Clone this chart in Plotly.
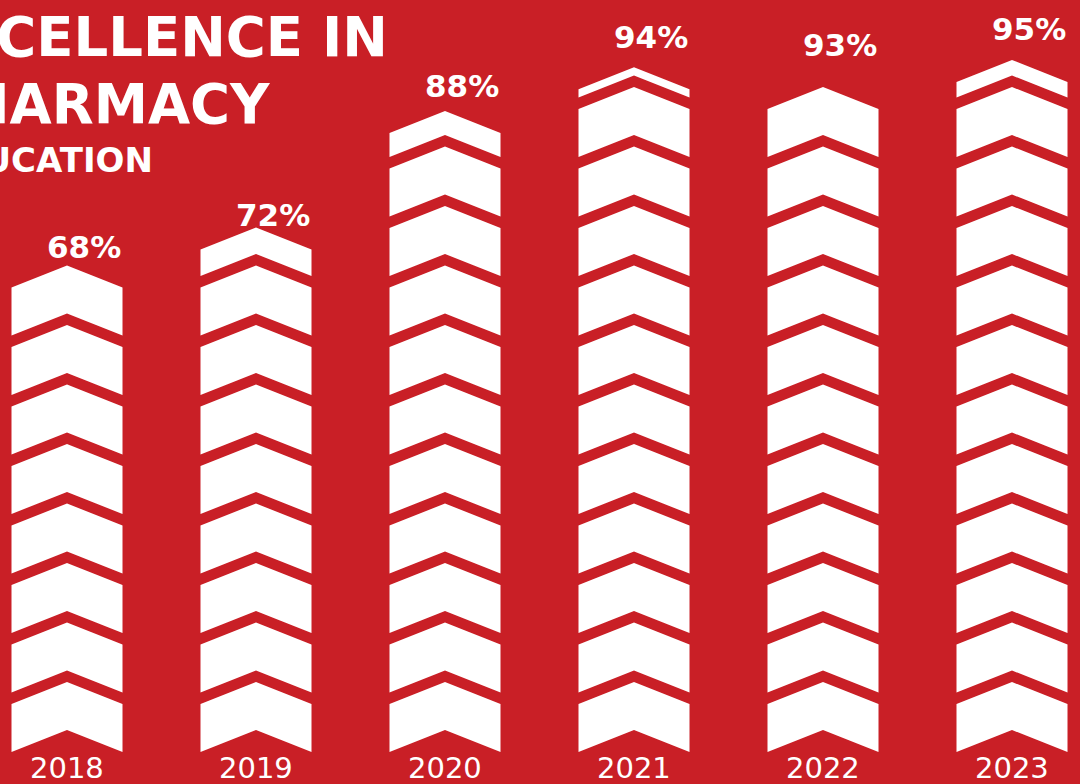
import plotly.graph_objects as go

# ---- data ----
years = ["2018", "2019", "2020", "2021", "2022", "2023"]
values = [68, 72, 88, 94, 93, 95]
title_lines = ["EXCELLENCE IN", "PHARMACY", "EDUCATION"]

# ---- style constants ----
BG = "#C91F26"
W, H = 1080, 784
PX_PER_UNIT = 7.285          # pixels per percentage point (chevron bars)
LABEL_PX_PER_UNIT = 8.073    # pixels per percentage point (value labels)
LABEL_OFFSET_PX = -44.2
BAR_SPACING_PX = 189.0
FIRST_CENTER_PX = 67.0
BASE_PX = 752.0
PITCH = 59.5 / PX_PER_UNIT   # vertical distance between stacked chevrons
NOTCH = 22.0 / PX_PER_UNIT   # depth of the chevron point
SIDE = 48.0 / PX_PER_UNIT    # height of the chevron's vertical side
HALF_W = 55.5 / BAR_SPACING_PX
FONT = "DejaVu Sans"

fig = go.Figure()

for i, v in enumerate(values):
    xs, ys = [], []
    x0, x1 = i - HALF_W, i + HALF_W
    j = 0
    while True:
        base = j * PITCH
        side = min(SIDE, v - base - NOTCH)
        if side < 0.3:
            break
        xs += [x0, x0, i, x1, x1, i, x0, None]
        ys += [base, base + side, base + side + NOTCH, base + side, base,
               base + NOTCH, base, None]
        if side < SIDE:
            break
        j += 1
    fig.add_trace(go.Scatter(
        x=xs, y=ys, fill="toself", fillcolor="white", mode="lines",
        line=dict(width=0, color="white"), hoverinfo="skip", showlegend=False,
    ))

annotations = []
for i, (yr, v) in enumerate(zip(years, values)):
    annotations.append(dict(
        x=i + HALF_W, y=v, xref="x", yref="y2", xanchor="right",
        yanchor="middle", text=f"{v}%", showarrow=False,
        font=dict(family=FONT, size=31, color="white", weight="bold"),
    ))
    annotations.append(dict(
        x=i, y=-(768 - BASE_PX) / PX_PER_UNIT, xref="x", yref="y",
        xanchor="center", yanchor="middle", text=yr, showarrow=False,
        font=dict(family=FONT, size=29, color="white"),
    ))

title_right_px = [390, 272, 155]
title_center_py = [37, 104, 160]
title_sizes = [54.5, 54.5, 34]
for line, rx, cy, sz in zip(title_lines, title_right_px, title_center_py, title_sizes):
    annotations.append(dict(
        x=rx / W, y=1 - cy / H, xref="paper", yref="paper", xanchor="right",
        yanchor="middle", text=line, showarrow=False,
        font=dict(family=FONT, size=sz, color="white", weight="bold"),
    ))

x_lo = -FIRST_CENTER_PX / BAR_SPACING_PX
x_hi = (W - FIRST_CENTER_PX) / BAR_SPACING_PX
y_lo = -(H - BASE_PX) / PX_PER_UNIT
y_hi = BASE_PX / PX_PER_UNIT
# label axis: value v sits at (LABEL_PX_PER_UNIT*v + LABEL_OFFSET_PX) px above the baseline
y2_lo = ((H - BASE_PX) + LABEL_OFFSET_PX) / -LABEL_PX_PER_UNIT
y2_hi = y2_lo + H / LABEL_PX_PER_UNIT

fig.update_layout(
    width=W, height=H,
    margin=dict(l=0, r=0, t=0, b=0),
    paper_bgcolor=BG, plot_bgcolor=BG,
    xaxis=dict(range=[x_lo, x_hi], visible=False, fixedrange=True),
    yaxis=dict(range=[y_lo, y_hi], visible=False, fixedrange=True),
    yaxis2=dict(range=[y2_lo, y2_hi], visible=False, fixedrange=True,
                overlaying="y", side="right"),
    annotations=annotations,
    showlegend=False,
)

fig.write_html(
    "out.html",
    config={"displayModeBar": False},
    post_script="document.body.style.margin='0';document.body.style.background='%s';" % BG,
)
